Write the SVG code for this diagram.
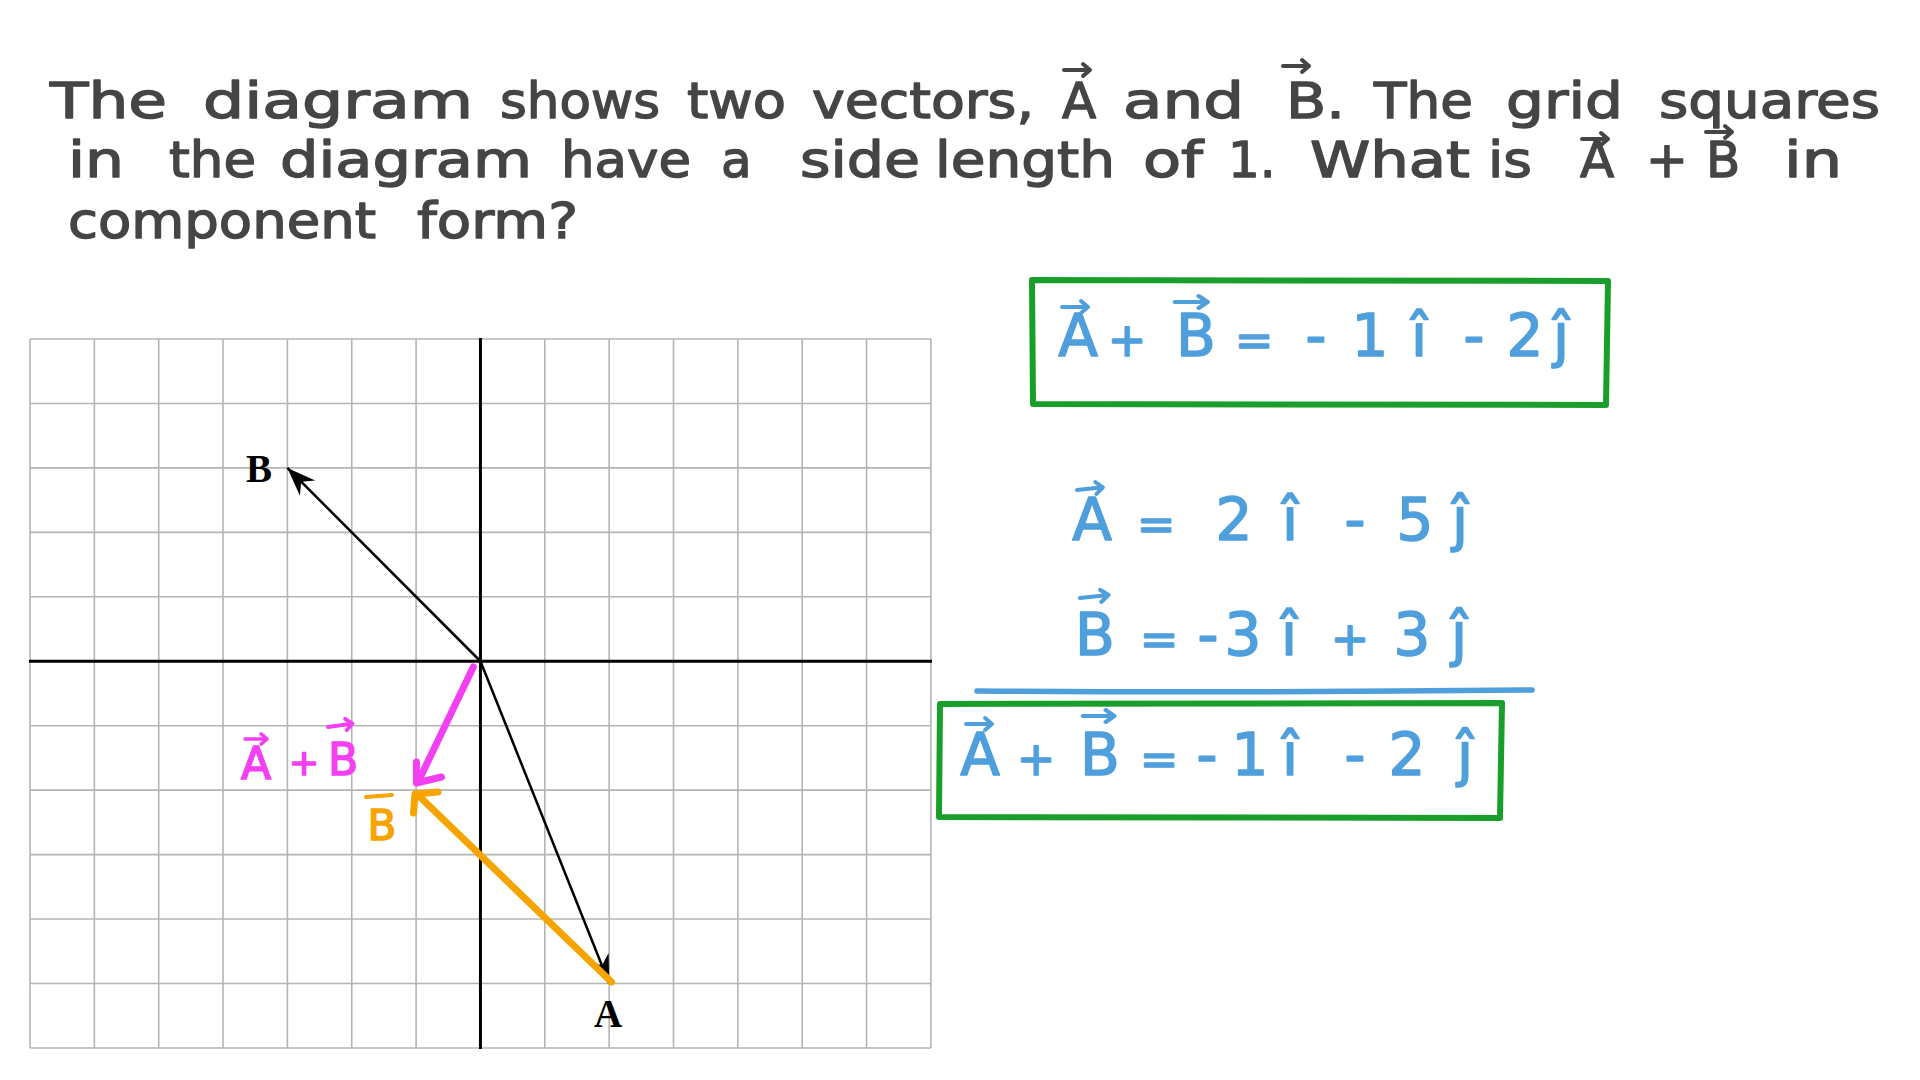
<svg xmlns="http://www.w3.org/2000/svg" xmlns:xlink="http://www.w3.org/1999/xlink" width="1920" height="1080" viewBox="0 0 1920 1080">
<style>
.title text{font-family:"DejaVu Sans",sans-serif;font-size:50px;fill:#454545;stroke:#454545;stroke-width:1.4;stroke-linejoin:round}
.eq{font-family:"DejaVu Sans",sans-serif;font-size:58px;fill:#4f9fdd;stroke:#4f9fdd;stroke-width:1.6;stroke-linejoin:round;text-anchor:middle}
.sm{font-size:46px}
.grid line{stroke:#b4b4b4;stroke-width:1.6}
.axis{stroke:#000;stroke-width:3}
.vec{stroke:#000;stroke-width:2.5;fill:none}
.lbl{font-family:"Liberation Serif",serif;font-weight:bold;font-size:39px;fill:#000;text-anchor:middle}
.hand{fill:none;stroke-width:7;stroke-linecap:round;stroke-linejoin:round}
.box{fill:none;stroke:#1a9e2b;stroke-width:6;stroke-linejoin:round}
.ar{fill:none;stroke-width:4;stroke-linecap:round;stroke-linejoin:round}
</style>
<defs>
<marker id="tip" markerUnits="userSpaceOnUse" markerWidth="40" markerHeight="40" refX="0" refY="0" viewBox="-30 -15 35 30" orient="auto">
<path d="M0,0 L-25,-9.5 L-17,0 L-25,9.5 Z" fill="#000"/>
</marker>
<path id="va" d="M0,0 H26 M19,-6 L26,0 L19,6"/>
</defs>
<rect width="1920" height="1080" fill="#fff"/>

<g id="title" class="title">
<text x="50" y="118" textLength="117" lengthAdjust="spacingAndGlyphs">The</text>
<text x="203" y="118" textLength="270" lengthAdjust="spacingAndGlyphs">diagram</text>
<text x="500" y="118" textLength="160" lengthAdjust="spacingAndGlyphs">shows</text>
<text x="687" y="118" textLength="99" lengthAdjust="spacingAndGlyphs">two</text>
<text x="812" y="118" textLength="222" lengthAdjust="spacingAndGlyphs">vectors,</text>
<text x="1062" y="118">A</text>
<text x="1123" y="118" textLength="121" lengthAdjust="spacingAndGlyphs">and</text>
<text x="1286" y="118" textLength="59" lengthAdjust="spacingAndGlyphs">B.</text>
<text x="1374" y="118" textLength="99" lengthAdjust="spacingAndGlyphs">The</text>
<text x="1506" y="118" textLength="117" lengthAdjust="spacingAndGlyphs">grid</text>
<text x="1659" y="118" textLength="221" lengthAdjust="spacingAndGlyphs">squares</text>
<text x="68" y="177" textLength="56" lengthAdjust="spacingAndGlyphs">in</text>
<text x="169" y="177" textLength="87" lengthAdjust="spacingAndGlyphs">the</text>
<text x="280" y="177" textLength="252" lengthAdjust="spacingAndGlyphs">diagram</text>
<text x="561" y="177" textLength="130" lengthAdjust="spacingAndGlyphs">have</text>
<text x="721" y="177">a</text>
<text x="800" y="177" textLength="120" lengthAdjust="spacingAndGlyphs">side</text>
<text x="935" y="177" textLength="180" lengthAdjust="spacingAndGlyphs">length</text>
<text x="1143" y="177" textLength="60" lengthAdjust="spacingAndGlyphs">of</text>
<text x="1228" y="177">1.</text>
<text x="1310" y="177" textLength="160" lengthAdjust="spacingAndGlyphs">What</text>
<text x="1488" y="177" textLength="44" lengthAdjust="spacingAndGlyphs">is</text>
<text x="1580" y="177">A</text>
<text x="1646" y="177">+</text>
<text x="1706" y="177">B</text>
<text x="1784" y="177" textLength="58" lengthAdjust="spacingAndGlyphs">in</text>
<text x="68" y="238" textLength="308" lengthAdjust="spacingAndGlyphs">component</text>
<text x="417" y="238" textLength="161" lengthAdjust="spacingAndGlyphs">form?</text>
<g class="ar" stroke="#454545">
<use xlink:href="#va" transform="translate(1064,70)"/>
<use xlink:href="#va" transform="translate(1283,66)"/>
<use xlink:href="#va" transform="translate(1582,139)"/>
<use xlink:href="#va" transform="translate(1706,132)"/>
</g>
</g>

<g id="grid" class="grid">
<line x1="30" y1="339" x2="30" y2="1048"/>
<line x1="94.35" y1="339" x2="94.35" y2="1048"/>
<line x1="158.7" y1="339" x2="158.7" y2="1048"/>
<line x1="223.05" y1="339" x2="223.05" y2="1048"/>
<line x1="287.4" y1="339" x2="287.4" y2="1048"/>
<line x1="351.75" y1="339" x2="351.75" y2="1048"/>
<line x1="416.1" y1="339" x2="416.1" y2="1048"/>
<line x1="544.8" y1="339" x2="544.8" y2="1048"/>
<line x1="609.15" y1="339" x2="609.15" y2="1048"/>
<line x1="673.5" y1="339" x2="673.5" y2="1048"/>
<line x1="737.85" y1="339" x2="737.85" y2="1048"/>
<line x1="802.2" y1="339" x2="802.2" y2="1048"/>
<line x1="866.55" y1="339" x2="866.55" y2="1048"/>
<line x1="930.9" y1="339" x2="930.9" y2="1048"/>
<line x1="30" y1="339" x2="931" y2="339"/>
<line x1="30" y1="403.45" x2="931" y2="403.45"/>
<line x1="30" y1="467.9" x2="931" y2="467.9"/>
<line x1="30" y1="532.35" x2="931" y2="532.35"/>
<line x1="30" y1="596.8" x2="931" y2="596.8"/>
<line x1="30" y1="725.7" x2="931" y2="725.7"/>
<line x1="30" y1="790.15" x2="931" y2="790.15"/>
<line x1="30" y1="854.6" x2="931" y2="854.6"/>
<line x1="30" y1="919.05" x2="931" y2="919.05"/>
<line x1="30" y1="983.5" x2="931" y2="983.5"/>
<line x1="30" y1="1047.95" x2="931" y2="1047.95"/>
</g>
<g id="axes">
<line class="axis" x1="29" y1="661.25" x2="932" y2="661.25"/>
<line class="axis" x1="480.45" y1="338" x2="480.45" y2="1049"/>
</g>

<g id="connectors">
<line class="vec" x1="480.45" y1="661.25" x2="287.4" y2="467.9" marker-end="url(#tip)"/>
<line class="vec" x1="480.45" y1="661.25" x2="609.15" y2="983.5" marker-end="url(#tip)"/>
<path class="hand" stroke="#f5a400" d="M611.5,982 L420,797 M413.5,813 L415,794 L438,792"/>
<path class="hand" stroke="#f23ff2" d="M473.3,667 L418.3,781.5 M416.5,762 L416.5,783 L441.5,777"/>
</g>

<g id="label-B"><text class="lbl" x="259" y="482">B</text></g>
<g id="label-A"><text class="lbl" x="608" y="1027">A</text></g>

<g id="label-sum">
<text font-family="DejaVu Sans, sans-serif" font-size="44" fill="#f23ff2" stroke="#f23ff2" stroke-width="1.5" text-anchor="middle"><tspan x="256" y="779">A</tspan><tspan x="304" y="775" font-size="36">+</tspan><tspan x="343" y="775">B</tspan></text>
<g class="ar" stroke="#f23ff2">
<use xlink:href="#va" transform="translate(245,739) scale(0.85)"/>
<use xlink:href="#va" transform="translate(328,727) rotate(-8) scale(0.95)"/>
</g>
</g>
<g id="label-Bo">
<text font-family="DejaVu Sans, sans-serif" font-size="42" fill="#f5a400" stroke="#f5a400" stroke-width="1.5" text-anchor="middle" x="382" y="840">B</text>
<line x1="366" y1="797" x2="392" y2="795" stroke="#f5a400" stroke-width="4" stroke-linecap="round"/>
</g>

<g id="eq-top">
<path class="box" d="M1032,280 L1608,281 L1606,405 L1033,404 Z"/>
<text class="eq" y="356"><tspan x="1078">A</tspan><tspan x="1127" class="sm">+</tspan><tspan x="1196">B</tspan><tspan x="1254" class="sm">=</tspan><tspan x="1316">-</tspan><tspan x="1370">1</tspan><tspan x="1419">î</tspan><tspan x="1474">-</tspan><tspan x="1525">2</tspan><tspan x="1561">ĵ</tspan></text>
<g class="ar" stroke="#4f9fdd">
<use xlink:href="#va" transform="translate(1062,307)"/>
<use xlink:href="#va" transform="translate(1175,302) scale(1.25,1)"/>
</g>
</g>

<g id="eq-A">
<text class="eq" y="540"><tspan x="1092">A</tspan><tspan x="1156" class="sm">=</tspan><tspan x="1234">2</tspan><tspan x="1290">î</tspan><tspan x="1355">-</tspan><tspan x="1415">5</tspan><tspan x="1460">ĵ</tspan></text>
<g class="ar" stroke="#4f9fdd"><use xlink:href="#va" transform="translate(1077,490) rotate(-6)"/></g>
</g>

<g id="eq-B">
<text class="eq" y="655"><tspan x="1095">B</tspan><tspan x="1159" class="sm">=</tspan><tspan x="1208">-</tspan><tspan x="1243">3</tspan><tspan x="1289">î</tspan><tspan x="1350" class="sm">+</tspan><tspan x="1412">3</tspan><tspan x="1459">ĵ</tspan></text>
<g class="ar" stroke="#4f9fdd"><use xlink:href="#va" transform="translate(1080,598) rotate(-6) scale(1.1,1)"/></g>
<path d="M977,691 Q1250,693 1532,690" fill="none" stroke="#4f9fdd" stroke-width="5.5" stroke-linecap="round"/>
</g>

<g id="eq-sum">
<path class="box" d="M940,704 L1502,703 L1500,818 L939,817 Z"/>
<text class="eq" y="775"><tspan x="980">A</tspan><tspan x="1036" class="sm">+</tspan><tspan x="1100">B</tspan><tspan x="1159" class="sm">=</tspan><tspan x="1207">-</tspan><tspan x="1250">1</tspan><tspan x="1290">î</tspan><tspan x="1355">-</tspan><tspan x="1407">2</tspan><tspan x="1465">ĵ</tspan></text>
<g class="ar" stroke="#4f9fdd">
<use xlink:href="#va" transform="translate(966,724)"/>
<use xlink:href="#va" transform="translate(1083,716) scale(1.2,1)"/>
</g>
</g>
</svg>
